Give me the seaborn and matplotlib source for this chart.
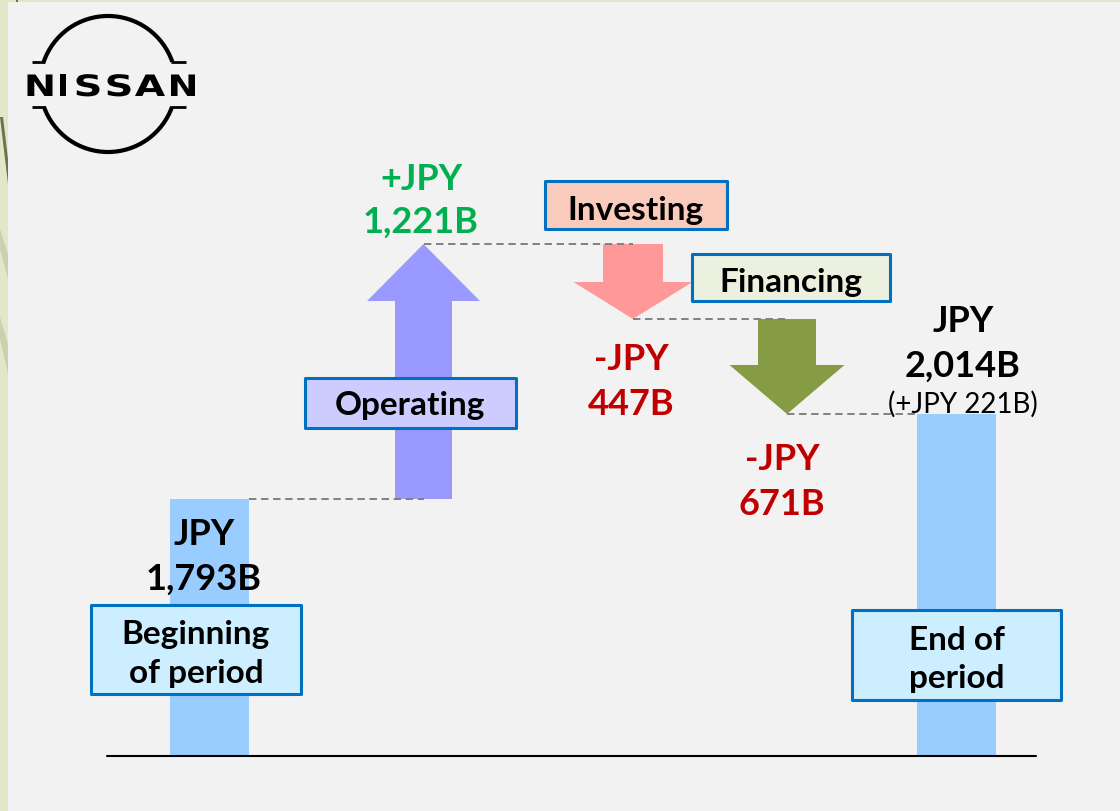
import numpy as np
import pandas as pd
import matplotlib
matplotlib.use("Agg")
import matplotlib.pyplot as plt
import matplotlib.transforms as mtransforms
import seaborn as sns
from matplotlib.patches import Rectangle, FancyArrow, Arc, Polygon, PathPatch
from matplotlib.textpath import TextPath
from matplotlib.font_manager import FontProperties

# ---------------- data ----------------
steps = ["Beginning\nof period", "Operating", "Investing", "Financing", "End of\nperiod"]
step_kind = ["total", "delta", "delta", "delta", "total"]
amounts_jpy_b = [1793, 1221, -447, -671, 2014]
net_change_jpy_b = 221
# the slide is schematic (not to scale): drawn heights
drawn_heights = [257, 255, -75, -95, 342]

# ---------------- styles / layout ----------------
sns.set_theme(style="white")
plt.rcParams["font.family"] = ["Lato", "DejaVu Sans"]

W, H = 1120, 812
BASE_PX = 757


def Y(p):
    """top-origin pixel row -> data y (baseline = 0)"""
    return BASE_PX - p


X_CENTER = [209.5, 423.5, 633, 787, 956.5]
BAR_W = 79
SHAFT_W = [None, 57, 60, 58, None]
HEAD_W = [None, 113, 119, 115, None]
HEAD_L = [None, 57, 37, 49, None]
STEP_COLOR = ["#99ccff", "#9999ff", "#ff9999", "#859c45", "#99ccff"]
BOX_FILL = ["#cceeff", "#ccccff", "#f8cbbd", "#ebf1de", "#cceeff"]
BOX_PX = [(91, 301, 606, 695), (305, 516, 379, 429), (545, 727, 182, 230),
          (692, 890, 255, 302), (852, 1061, 611, 701)]
BOX_TEXT_BASE = [(644, 683), (415,), (220,), (292,), (650, 688)]
VAL_X = [204, 421, 631, 782, 963]
VAL_BASE = [(545, 590), (190, 233), (370, 415), (470, 515), (332, 377)]
VAL_COLOR = ["black", "#00b050", "#c00000", "#c00000", "black"]
STRIP = "#e1e8c8"
PANEL = "#f2f2f2"
EDGE = "#0070c0"

fig = plt.figure(figsize=(W / 100, H / 100), dpi=100)
fig.patch.set_facecolor(STRIP)
ax = fig.add_axes([0, 0, 1, 1])
ax.set_facecolor("none")

# decorative slivers in the left strip and panel
ax.add_patch(Polygon([(0, Y(118)), (3, Y(118)), (8, Y(160)), (8, Y(185))],
                     closed=True, color="#74704f", lw=0, zorder=0.2))
ax.add_patch(Polygon([(0, Y(230)), (8, Y(255)), (8, Y(280)), (0, Y(250))],
                     closed=True, color="#cbd0ae", lw=0, zorder=0.2))
ax.add_patch(Polygon([(0, Y(318)), (8, Y(345)), (8, Y(375)), (0, Y(340))],
                     closed=True, color="#cbd0ae", lw=0, zorder=0.2))
ax.add_patch(Rectangle((16, Y(3)), 2, 3, color="#74704f", lw=0, zorder=0.2))
ax.add_patch(Rectangle((8, Y(H)), W - 8, H - 3, color=PANEL, lw=0, zorder=0.5))

# ---------------- waterfall levels ----------------
starts, ends = [], []
level = 0
for kind, h in zip(step_kind, drawn_heights):
    if kind == "total":
        starts.append(0)
        ends.append(h)
        level = h
    else:
        starts.append(level)
        level = level + h
        ends.append(level)

# totals as bars via seaborn
tot_idx = [i for i, k in enumerate(step_kind) if k == "total"]
df_tot = pd.DataFrame({
    "x": [X_CENTER[i] for i in tot_idx],
    "height": [drawn_heights[i] for i in tot_idx],
})
native = np.diff(df_tot["x"].values).min()
sns.barplot(data=df_tot, x="x", y="height", native_scale=True,
            width=BAR_W / native, color=STEP_COLOR[0], saturation=1,
            errorbar=None, linewidth=0, ax=ax, zorder=2)

# deltas as arrows
for i, k in enumerate(step_kind):
    if k != "delta":
        continue
    ax.add_patch(FancyArrow(X_CENTER[i], starts[i], 0, drawn_heights[i],
                            width=SHAFT_W[i], head_width=HEAD_W[i],
                            head_length=HEAD_L[i], length_includes_head=True,
                            color=STEP_COLOR[i], lw=0, zorder=2))

# dashed connectors
for i in range(len(steps) - 1):
    x0 = X_CENTER[i] + (BAR_W / 2 if step_kind[i] == "total" else 0)
    x1 = X_CENTER[i + 1] - (BAR_W / 2 if step_kind[i + 1] == "total" else 0)
    ax.plot([x0, x1], [ends[i], ends[i]], color="#808080", lw=1.4,
            linestyle=(0, (3.8, 2.4)), zorder=3)

# baseline
ax.plot([107, 1036], [0, 0], color="black", lw=1.5, zorder=3)

# step label boxes
for i, name in enumerate(steps):
    x0, x1, p0, p1 = BOX_PX[i]
    ax.add_patch(Rectangle((x0, Y(p1)), x1 - x0, p1 - p0, facecolor=BOX_FILL[i],
                           edgecolor=EDGE, lw=2.2, joinstyle="round", zorder=4))
    for line, pb in zip(name.split("\n"), BOX_TEXT_BASE[i]):
        ax.text((x0 + x1) / 2, Y(pb), line, ha="center", va="baseline",
                fontsize=24, fontweight="bold", color="black", zorder=5)

# value labels
for i, v in enumerate(amounts_jpy_b):
    if step_kind[i] == "total":
        top = "JPY"
    else:
        top = ("+" if v > 0 else "-") + "JPY"
    val = f"{abs(v):,}B"
    for line, pb in zip([top, val], VAL_BASE[i]):
        ax.text(VAL_X[i], Y(pb), line, ha="center", va="baseline",
                fontsize=26, fontweight="bold", color=VAL_COLOR[i], zorder=5)
ax.text(VAL_X[4], Y(413), f"(+JPY {net_change_jpy_b:,}B)", ha="center",
        va="baseline", fontsize=20, color="black", zorder=5)

# logo
cx, cy, r = 108, Y(85), 68
ax.add_patch(Arc((cx, cy), 2 * r, 2 * r, theta1=19, theta2=161, lw=3.0,
                 color="black", zorder=3))
ax.add_patch(Arc((cx, cy), 2 * r, 2 * r, theta1=199.5, theta2=340.5, lw=3.0,
                 color="black", zorder=3))
for py_ in (63, 108):
    ax.plot([32, 45], [Y(py_), Y(py_)], color="black", lw=2.0, zorder=3,
            solid_capstyle="butt")
    ax.plot([171, 186], [Y(py_), Y(py_)], color="black", lw=2.0, zorder=3,
            solid_capstyle="butt")
logo_fp = FontProperties(family="DejaVu Sans", weight="bold")
LOGO_CAP = 21.5
for ch, lx, lw_ in zip("NISSAN", [40, 62.5, 88, 119, 150, 183],
                       [25, 6, 23, 23, 30, 24]):
    tp = TextPath((0, 0), ch, size=LOGO_CAP / 0.729, prop=logo_fp)
    ext = tp.get_extents()
    sx = lw_ / ext.width
    tr = (mtransforms.Affine2D().translate(-(ext.x0 + ext.width / 2), 0)
          .scale(sx, 1).translate(lx, Y(97)))
    ax.add_patch(PathPatch(tr.transform_path(tp), facecolor="black", lw=0,
                           zorder=3))

ax.set_xlim(0, W)
ax.set_ylim(Y(H), Y(0))
ax.axis("off")
fig.savefig("out.png", dpi=100, facecolor=fig.get_facecolor())
